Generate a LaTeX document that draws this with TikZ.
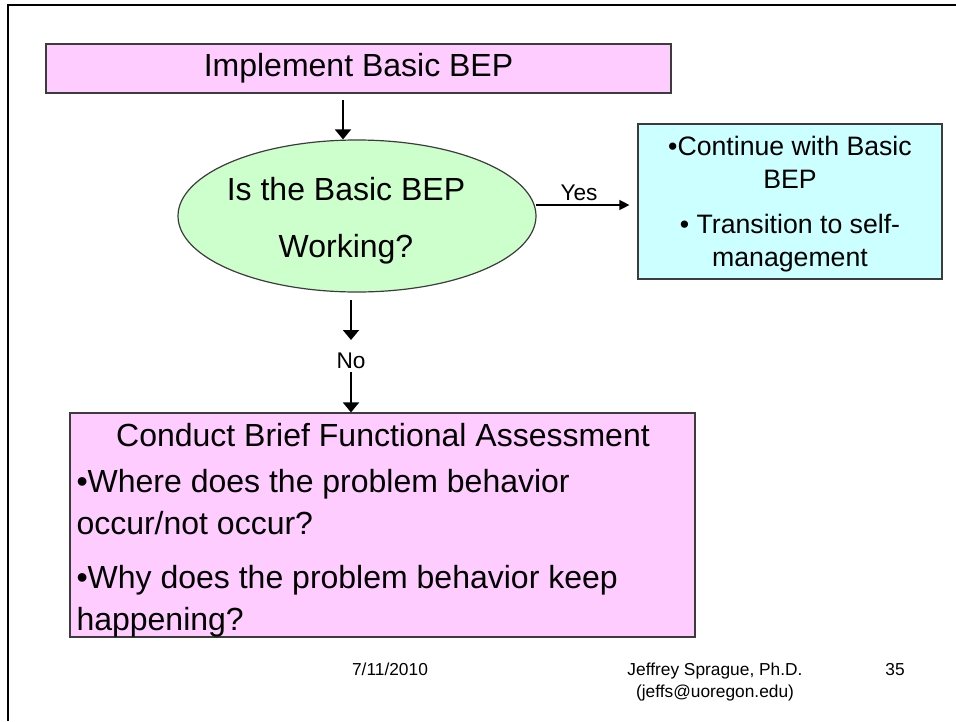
\documentclass[tikz,border=0pt]{standalone}
\usepackage{fontspec}
\setmainfont{Liberation Sans}
\usetikzlibrary{shapes.geometric,arrows.meta}

\definecolor{boxpink}{RGB}{255,204,255}
\definecolor{ovalgreen}{RGB}{204,255,204}
\definecolor{boxcyan}{RGB}{204,255,255}
\definecolor{edgegray}{RGB}{60,60,60}

\tikzset{every picture/.style={line width=0.75pt}}
\tikzset{
  slidebox/.style={draw=edgegray, line width=0.9pt, inner sep=0pt},
  flowarrow/.style={line width=1.5pt, -{Triangle[width=12pt,length=7.5pt]}},
  yesarrow/.style={line width=1pt, -{Triangle[width=7.5pt,length=7.5pt]}},
  bigtext/.style={font=\fontsize{24}{31.5}\selectfont},
  midtext/.style={font=\fontsize{20}{24.75}\selectfont},
  smalltext/.style={font=\fontsize{17}{20}\selectfont},
  foottext/.style={font=\fontsize{13}{16}\selectfont},
}

\begin{document}
\begin{tikzpicture}[x=0.75pt,y=0.75pt,yscale=-1,xscale=1]
\useasboundingbox (0,0) rectangle (956,721);

%Slide frame
\draw [line width=1.5pt] (8,721) -- (8,5) -- (956,5);

%Top box
\node [slidebox, fill=boxpink, minimum width=468.75pt, minimum height=36.75pt, bigtext] (impl) at (358.5,68.5) {Implement Basic BEP};
%Decision oval (base anchor sits on the last line)
\node [slidebox, ellipse, fill=ovalgreen, minimum width=268.5pt, minimum height=114pt] (ask) at (357,216) {};
\node [bigtext, font=\fontsize{24}{42.75}\selectfont, align=center, anchor=base] (asktxt) at (346,257) {Is the Basic BEP\\Working?};
%Yes box
\node [slidebox, fill=boxcyan, minimum width=228pt, minimum height=116.25pt] (cont) at (790,201.5) {};
\node [midtext, align=center, anchor=base] (conttxt) at (790,188) {•Continue with Basic\\BEP};
\node [midtext, align=center, anchor=base] (selftxt) at (790,266) {• Transition to self-\\management};
%No box
\node [slidebox, fill=boxpink, minimum width=468.75pt, minimum height=168pt] (assess) at (382.5,525) {};
\node [bigtext, anchor=base] (assesstitle) at (383,446) {Conduct Brief Functional Assessment};
\node [bigtext, align=left, anchor=base west, inner sep=0pt] (where) at (76,534) {•Where does the problem behavior\\occur/not occur?};
\node [bigtext, align=left, anchor=base west, inner sep=0pt] (why) at (76,630) {•Why does the problem behavior keep\\happening?};

%Arrows
\coordinate (a0) at (343,100);
\draw [flowarrow] (a0) -- (a0 |- ask.north);
\coordinate (y0) at (536,205);
\draw [yesarrow, shorten >=6pt] (y0) -- (y0 -| cont.west);
\node [smalltext, anchor=base] (lblyes) at (579,200) {Yes};
\coordinate (n0) at (351,300);
\coordinate (n1) at (351,340);
\draw [flowarrow] (n0) -- (n1);
\node [smalltext, anchor=base] (lblno) at (351,368) {No};
\coordinate (n2) at (351,372);
\draw [flowarrow] (n2) -- (n2 |- assess.north);

%Footer
\node [foottext, anchor=base] (date) at (390,675) {7/11/2010};
\node [foottext, align=center, anchor=base] (author) at (715,697) {Jeffrey Sprague, Ph.D.\\(jeffs@uoregon.edu)};
\node [foottext, anchor=base] (page) at (895,675) {35};

\end{tikzpicture}
\end{document}
